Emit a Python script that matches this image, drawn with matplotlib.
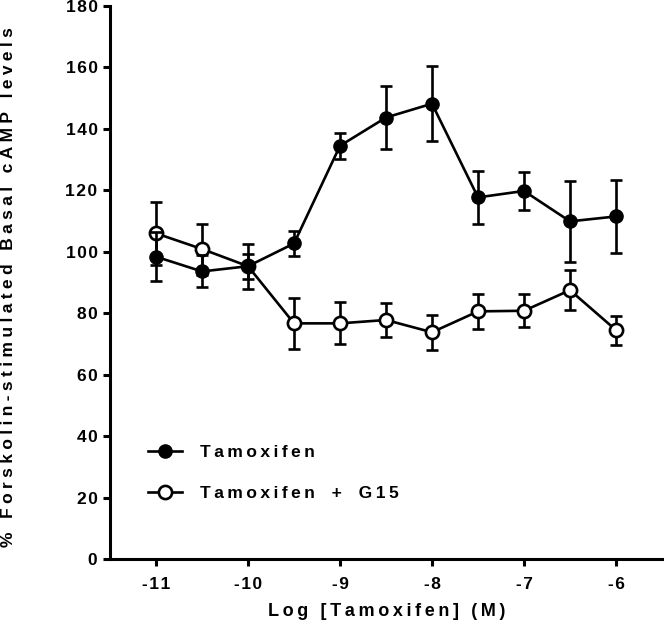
import matplotlib
matplotlib.use('Agg')
import matplotlib.pyplot as plt

# data
log_conc = [-11, -10.5, -10, -9.5, -9, -8.5, -8, -7.5, -7, -6.5, -6]
tam_mean = [98.4, 93.6, 95.3, 102.7, 134.5, 143.7, 148.2, 117.7, 119.8, 109.9, 111.5]
tam_err = [8.0, 5.2, 4.0, 4.0, 4.2, 10.3, 12.3, 8.6, 6.2, 13.2, 11.9]
g15_mean = [106.0, 100.9, 95.3, 76.7, 76.7, 77.8, 73.8, 80.6, 80.8, 87.5, 74.5]
g15_err = [10.3, 8.3, 7.3, 8.4, 6.8, 5.4, 5.7, 5.6, 5.4, 6.6, 4.7]

x_ticks = [-11, -10, -9, -8, -7, -6]
y_ticks = list(range(0, 181, 20))
series_labels = ['Tamoxifen', 'Tamoxifen + G15']
x_label = 'Log [Tamoxifen] (M)'
y_label = '% Forskolin-stimulated Basal cAMP levels'

FAMILY = ['Liberation Sans', 'DejaVu Sans']
THIN = '\u2009'
HAIR = '\u200a'
FOUR = '\u2005'


def spaced(s, gap=THIN, word=' '):
    # Prism-style tracking: push a small space between every character
    return gap.join(word if c == ' ' else c for c in s)


def main():
    plt.rcParams['font.family'] = FAMILY
    plt.rcParams['font.weight'] = 'bold'

    fig = plt.figure(figsize=(6.64, 6.31), dpi=100)
    ax = fig.add_axes([110 / 664, 72 / 631, 552 / 664, 553 / 631])

    lw = 1.9
    tam = ax.errorbar(log_conc, tam_mean, yerr=tam_err, color='black', lw=lw,
                      marker='o', ms=9.5, mfc='black', mec='black',
                      elinewidth=lw, capsize=4.5, capthick=lw, zorder=4)
    g15 = ax.errorbar(log_conc, g15_mean, yerr=g15_err, color='black', lw=lw,
                      marker='o', ms=9.5, mfc='white', mec='black', mew=lw,
                      elinewidth=lw, capsize=4.5, capthick=lw, zorder=3)

    ax.set_xlim(-11.5, -5.5)
    ax.set_ylim(0, 180)

    ax.spines['top'].set_visible(False)
    ax.spines['right'].set_visible(False)
    for side in ('left', 'bottom'):
        ax.spines[side].set_linewidth(2.2)

    ax.set_xticks(x_ticks)
    ax.set_xticklabels([spaced(str(t), HAIR) for t in x_ticks])
    ax.set_yticks(y_ticks)
    ax.set_yticklabels([spaced(str(t), HAIR) for t in y_ticks])
    ax.tick_params(axis='both', length=5, width=2.2, labelsize=12.5)
    ax.tick_params(axis='x', pad=8)
    ax.tick_params(axis='y', pad=4)
    for lab in ax.get_xticklabels() + ax.get_yticklabels():
        lab.set_fontweight('bold')

    fig.text(387 / 664, 1 - 611 / 631, spaced(x_label), fontsize=13,
             fontweight='bold', ha='center', va='center')
    fig.text(9 / 664, 1 - 287 / 631, spaced(y_label, FOUR), fontsize=12.5,
             fontweight='bold', ha='center', va='center', rotation=90)

    ax.legend([tam[0], g15[0]], [spaced(s, THIN, '  ') for s in series_labels],
              loc='upper left', bbox_to_anchor=(0.069, 0.207),
              frameon=False, borderpad=0, borderaxespad=0,
              handlelength=1.95, handletextpad=1.05, labelspacing=1.5,
              prop={'size': 12.5, 'weight': 'bold'})

    fig.savefig('out.png', dpi=100)


if __name__ == "__main__":
    main()
